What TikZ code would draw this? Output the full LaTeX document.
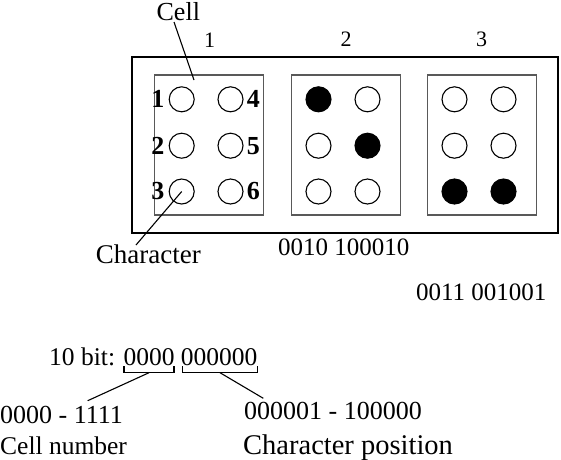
\documentclass[tikz,border=0pt]{standalone}
\usepackage{fontspec}
\setmainfont{Liberation Serif}
\begin{document}
\begin{tikzpicture}[x=1pt,y=-1pt,
  txt/.style={inner sep=0pt,font=\fontsize{26}{30}\selectfont},
  coltxt/.style={inner sep=0pt,font=\fontsize{22}{26}\selectfont},
  numtxt/.style={inner sep=0pt,font=\fontsize{26}{30}\selectfont\bfseries},
  outerbox/.style={draw,line width=1.8pt,minimum width=426pt,minimum height=176pt,inner sep=0pt},
  cellbox/.style={draw=black!65,line width=1.3pt,minimum width=109pt,minimum height=140pt,inner sep=0pt},
  dot/.style={circle,draw,line width=1.1pt,minimum size=25pt,inner sep=0pt},
  full/.style={dot,fill=black},
  conn/.style={line width=1.1pt},
  brace/.style={line width=1.2pt}]
\useasboundingbox (0,0) rectangle (561,459);
% outer frame
\node[outerbox] (outer) at (345.25,144.6) {};
% cells
\node[cellbox] (cellA) at (209.2,145) {};
\node[cellbox] (cellB) at (346.2,145) {};
\node[cellbox] (cellC) at (482,145) {};
% column labels
\node[coltxt,anchor=base] (lA) at (209.5,47) {1};
\node[coltxt,anchor=base] (lB) at (346,46) {2};
\node[coltxt,anchor=base] (lC) at (481.5,46) {3};
% dots cell 1
\node[dot] (a1) at (181.7,99.3) {};
\node[dot] (a2) at (181.7,145.7) {};
\node[dot] (a3) at (181.7,191.5) {};
\node[dot] (a4) at (230.5,99.3) {};
\node[dot] (a5) at (230.5,145.7) {};
\node[dot] (a6) at (230.5,191.5) {};
% dots cell 2
\node[full] (b1) at (318.5,99.3) {};
\node[dot] (b2) at (318.5,145.7) {};
\node[dot] (b3) at (318.5,191.5) {};
\node[dot] (b4) at (367.5,99.3) {};
\node[full] (b5) at (367.5,145.7) {};
\node[dot] (b6) at (367.5,191.5) {};
% dots cell 3
\node[dot] (c1) at (454.5,99.3) {};
\node[dot] (c2) at (454.5,145.7) {};
\node[full] (c3) at (454.5,191.5) {};
\node[dot] (c4) at (503.5,99.3) {};
\node[dot] (c5) at (503.5,145.7) {};
\node[full] (c6) at (503.5,191.5) {};
% dot numbers
\node[numtxt,anchor=east] (n1) at ([xshift=-4pt]a1.west) {1};
\node[numtxt,anchor=east] (n2) at ([xshift=-4pt]a2.west) {2};
\node[numtxt,anchor=east] (n3) at ([xshift=-4pt]a3.west) {3};
\node[numtxt,anchor=west] (n4) at ([xshift=3pt]a4.east) {4};
\node[numtxt,anchor=west] (n5) at ([xshift=3pt]a5.east) {5};
\node[numtxt,anchor=west] (n6) at ([xshift=3pt]a6.east) {6};
% callouts
\node[txt,anchor=base] (celltxt) at (178.3,20) {Cell};
\coordinate (cellpt) at (194,80);
\draw[conn] (174,22) coordinate (cellstart) -- (cellpt);
\node[txt,anchor=base,font=\fontsize{27}{30}\selectfont] (chartxt) at (148.3,263) {Character};
\coordinate (charstart) at (136,245);
\draw[conn] (charstart) -- (a3.center);
% codes
\node[txt,anchor=base,font=\fontsize{25}{30}\selectfont] (codeB) at (343.7,255.5) {0010 100010};
\node[txt,anchor=base,font=\fontsize{25}{30}\selectfont] (codeC) at (481.3,300) {0011 001001};
% bit layout
\node[txt,anchor=base west,font=\fontsize{25.5}{30}\selectfont] (bits) at (49,365) {10 bit: 0000 000000};
\coordinate (b1l) at (124,366);
\coordinate (b1r) at (174,366);
\coordinate (b1m) at (149,372.7);
\coordinate (b2l) at (182.7,366);
\coordinate (b2r) at (257.7,366);
\coordinate (b2m) at (220,372.7);
\draw[brace] (b1l) |- (b1m) -| (b1r);
\draw[brace] (b2l) |- (b2m) -| (b2r);
\node[txt,anchor=base west] (cellrange) at (0,423.5) {0000 - 1111};
\node[txt,anchor=base west,font=\fontsize{25.5}{30}\selectfont] (cellname) at (0,454) {Cell number};
\node[txt,anchor=base west] (posrange) at (244,419.5) {000001 - 100000};
\node[txt,anchor=base west,font=\fontsize{28.5}{30}\selectfont] (posname) at (243,454) {Character position};
\coordinate (cellend) at (87.7,400.7);
\coordinate (posend) at (263.3,398.3);
\draw[conn] (b1m) -- (cellend);
\draw[conn] (b2m) -- (posend);
\end{tikzpicture}
\end{document}
